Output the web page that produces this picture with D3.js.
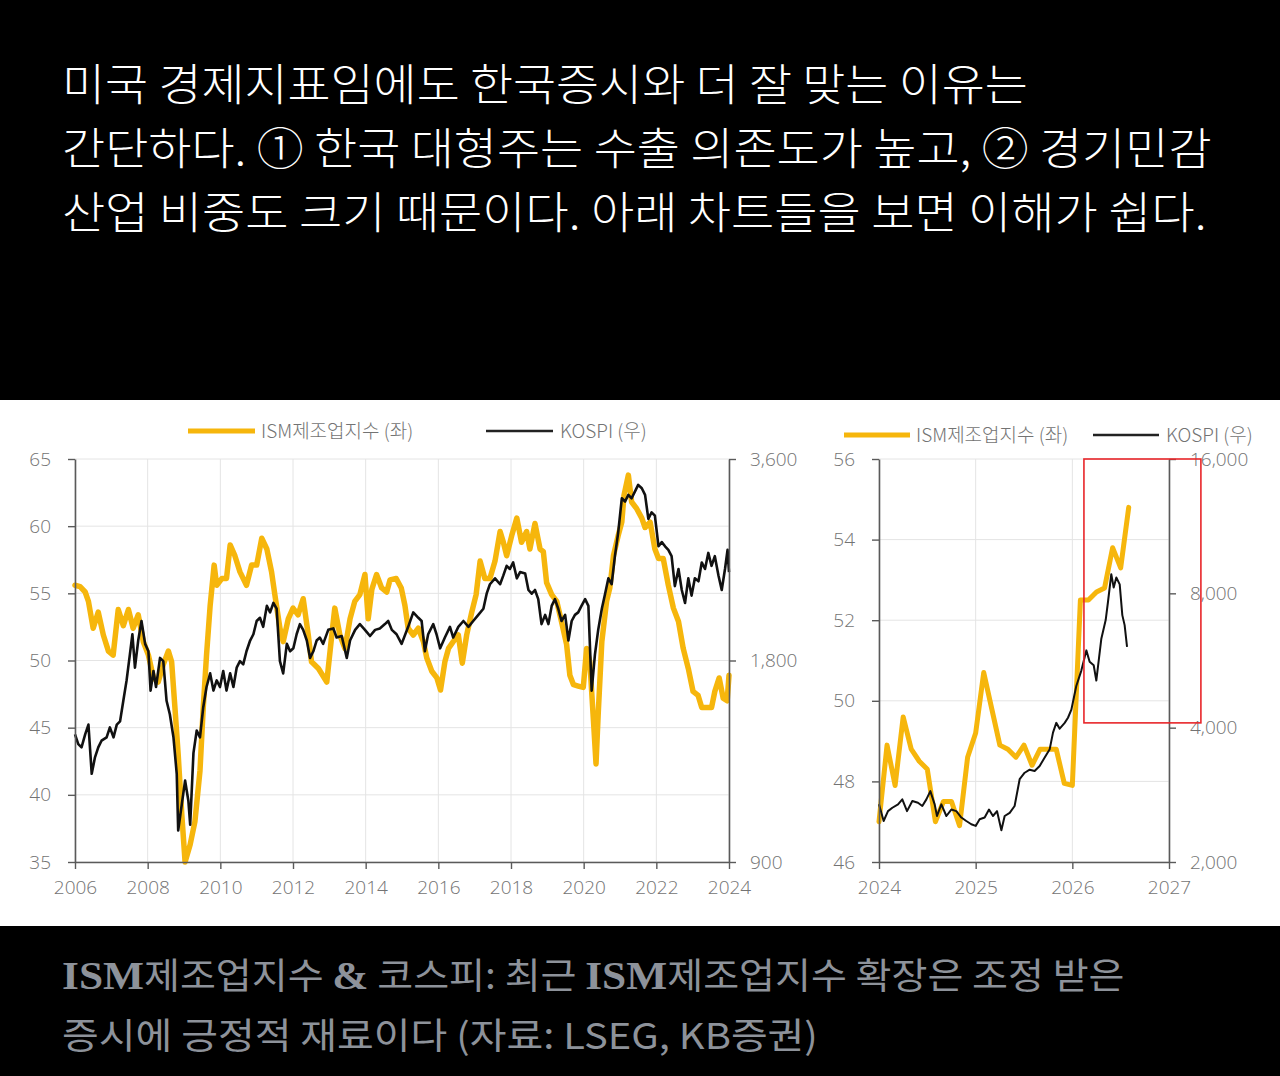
<!DOCTYPE html>
<html>
<head>
<meta charset="utf-8">
<script src="https://cdn.jsdelivr.net/npm/d3@7"></script>
<style>
  html, body { margin: 0; padding: 0; background: #000; }
  svg { display: block; }
</style>
</head>
<body>
<script>
// ---- data ----
const headerLines = [
  "미국 경제지표임에도 한국증시와 더 잘 맞는 이유는",
  "간단하다. ① 한국 대형주는 수출 의존도가 높고, ② 경기민감",
  "산업 비중도 크기 때문이다. 아래 차트들을 보면 이해가 쉽다."
];

const legendIsm = "ISM제조업지수 (좌)";
const legendKospi = "KOSPI (우)";

// left chart: ISM (left axis), KOSPI (right axis, log)
const ismLong = [
  [2006.00,55.6],[2006.14,55.5],[2006.28,55.1],[2006.37,54.4],[2006.50,52.4],[2006.64,53.6],
  [2006.78,51.9],[2006.92,50.7],[2007.05,50.4],[2007.19,53.8],[2007.33,52.6],[2007.47,53.8],
  [2007.60,52.4],[2007.74,53.4],[2007.88,51.4],[2008.02,50.4],[2008.16,48.7],[2008.29,48.4],
  [2008.43,49.7],[2008.57,50.7],[2008.66,49.9],[2008.75,46.5],[2008.84,43.0],[2008.94,38.5],
  [2009.03,35.0],[2009.17,36.3],[2009.30,38.0],[2009.44,41.8],[2009.53,46.5],[2009.62,50.4],
  [2009.72,54.1],[2009.83,57.1],[2009.90,55.6],[2010.04,56.1],[2010.17,56.1],[2010.27,58.6],
  [2010.40,57.8],[2010.54,56.6],[2010.72,55.6],[2010.86,57.1],[2011.00,57.1],[2011.14,59.1],
  [2011.28,58.3],[2011.41,56.6],[2011.50,54.9],[2011.64,52.4],[2011.73,51.4],[2011.87,53.1],
  [2012.00,53.9],[2012.14,53.4],[2012.28,54.6],[2012.42,51.9],[2012.51,49.9],[2012.70,49.4],
  [2012.93,48.4],[2013.06,51.7],[2013.15,53.9],[2013.29,51.9],[2013.43,50.9],[2013.57,53.1],
  [2013.70,54.4],[2013.84,54.9],[2013.98,56.4],[2014.07,53.1],[2014.17,55.3],[2014.30,56.4],
  [2014.44,55.4],[2014.58,55.1],[2014.67,56.0],[2014.84,56.1],[2014.98,55.4],[2015.08,54.1],
  [2015.17,52.4],[2015.31,51.9],[2015.45,52.4],[2015.59,51.4],[2015.68,50.2],[2015.82,49.2],
  [2015.96,48.7],[2016.06,47.8],[2016.18,49.9],[2016.28,50.9],[2016.41,51.4],[2016.55,51.9],
  [2016.66,49.8],[2016.78,51.9],[2016.92,53.6],[2017.04,54.9],[2017.15,57.4],[2017.28,56.1],
  [2017.42,56.1],[2017.56,57.4],[2017.70,59.6],[2017.79,58.8],[2017.88,57.8],[2018.02,59.3],
  [2018.16,60.6],[2018.29,58.8],[2018.43,59.6],[2018.52,58.3],[2018.66,60.2],[2018.80,58.3],
  [2018.89,58.1],[2018.98,55.8],[2019.12,54.9],[2019.26,54.4],[2019.39,52.9],[2019.53,51.2],
  [2019.62,48.9],[2019.72,48.2],[2019.85,48.1],[2019.99,48.0],[2020.08,50.9],[2020.17,49.9],
  [2020.27,45.5],[2020.34,42.3],[2020.40,46.0],[2020.50,51.4],[2020.63,54.4],[2020.72,55.4],
  [2020.82,57.8],[2020.95,59.3],[2021.05,60.3],[2021.11,62.3],[2021.23,63.8],[2021.32,61.8],
  [2021.46,61.3],[2021.60,60.6],[2021.69,59.9],[2021.83,60.3],[2021.96,58.3],[2022.06,57.6],
  [2022.19,57.6],[2022.33,55.6],[2022.47,53.9],[2022.61,52.9],[2022.74,50.9],[2022.88,49.4],
  [2023.01,47.7],[2023.15,47.4],[2023.25,46.5],[2023.39,46.5],[2023.52,46.5],[2023.61,47.7],
  [2023.73,48.7],[2023.84,47.2],[2023.95,47.0],[2024.00,48.9]
];

const kospiLong = [
  [2006.00,1396],[2006.09,1350],[2006.18,1335],[2006.28,1396],[2006.37,1444],[2006.46,1219],
  [2006.55,1290],[2006.64,1335],[2006.73,1366],[2006.87,1382],[2006.96,1430],[2007.06,1382],
  [2007.15,1444],[2007.24,1460],[2007.33,1567],[2007.42,1681],[2007.51,1837],[2007.58,1970],
  [2007.65,1756],[2007.74,1928],[2007.83,2062],[2007.93,1906],[2008.02,1858],[2008.08,1623],
  [2008.16,1736],[2008.23,1643],[2008.34,1816],[2008.43,1796],[2008.52,1567],[2008.61,1496],
  [2008.71,1382],[2008.80,1219],[2008.84,1003],[2008.94,1098],[2009.03,1191],[2009.12,1111],
  [2009.17,1023],[2009.26,1309],[2009.35,1415],[2009.44,1382],[2009.53,1533],[2009.62,1643],
  [2009.72,1722],[2009.81,1623],[2009.90,1681],[2009.99,1643],[2010.08,1736],[2010.17,1623],
  [2010.27,1722],[2010.36,1643],[2010.45,1756],[2010.54,1796],[2010.63,1776],[2010.72,1858],
  [2010.82,1928],[2010.91,1970],[2011.00,2062],[2011.09,2085],[2011.18,2021],[2011.28,2172],
  [2011.37,2124],[2011.46,2194],[2011.55,2151],[2011.64,1796],[2011.73,1722],[2011.83,1906],
  [2011.92,1858],[2012.01,1877],[2012.10,1970],[2012.19,2040],[2012.28,2000],[2012.38,1928],
  [2012.47,1816],[2012.56,1858],[2012.65,1928],[2012.74,1948],[2012.83,1906],[2012.97,2000],
  [2013.11,2010],[2013.20,1948],[2013.34,1958],[2013.48,1816],[2013.57,1928],[2013.71,2000],
  [2013.84,2040],[2013.98,2000],[2014.12,1958],[2014.26,2000],[2014.39,2010],[2014.53,2040],
  [2014.62,2062],[2014.72,2000],[2014.85,1970],[2014.99,1906],[2015.17,2021],[2015.31,2124],
  [2015.45,2085],[2015.54,2062],[2015.63,1858],[2015.72,1970],[2015.86,2040],[2015.95,1970],
  [2016.05,1877],[2016.18,1948],[2016.32,2021],[2016.41,1948],[2016.55,2021],[2016.69,2062],
  [2016.83,2021],[2016.96,2062],[2017.10,2106],[2017.24,2151],[2017.33,2265],[2017.42,2340],
  [2017.56,2388],[2017.70,2340],[2017.79,2412],[2017.88,2493],[2017.97,2466],[2018.06,2522],
  [2018.16,2388],[2018.25,2440],[2018.39,2427],[2018.48,2294],[2018.57,2265],[2018.66,2294],
  [2018.75,2223],[2018.84,2040],[2018.94,2106],[2019.03,2040],[2019.12,2172],[2019.21,2223],
  [2019.30,2151],[2019.39,2062],[2019.49,2106],[2019.58,1928],[2019.67,2062],[2019.76,2106],
  [2019.85,2124],[2019.94,2172],[2020.04,2223],[2020.13,2172],[2020.22,1623],[2020.31,1837],
  [2020.40,2000],[2020.50,2151],[2020.59,2265],[2020.68,2388],[2020.77,2340],[2020.86,2577],
  [2020.95,2795],[2021.05,3145],[2021.14,3110],[2021.23,3182],[2021.32,3145],[2021.41,3218],
  [2021.50,3294],[2021.60,3255],[2021.69,3182],[2021.78,2930],[2021.87,2997],[2021.96,2963],
  [2022.06,2666],[2022.15,2705],[2022.24,2666],[2022.33,2634],[2022.42,2577],[2022.51,2325],
  [2022.61,2466],[2022.70,2294],[2022.79,2194],[2022.88,2388],[2022.97,2250],[2023.06,2388],
  [2023.16,2364],[2023.25,2522],[2023.34,2466],[2023.43,2606],[2023.52,2493],[2023.61,2577],
  [2023.71,2412],[2023.80,2294],[2023.89,2466],[2023.96,2634],[2024.00,2440]
];

// right chart: monthly ISM Jan 2024 .. Aug 2026
const ismRecentValues = [
  47.0, 48.9, 47.9, 49.6, 48.8, 48.5, 48.3, 47.0, 47.5, 47.5, 46.9, 48.6,
  49.2, 50.7, 49.8, 48.9, 48.8, 48.6, 48.9, 48.4, 48.8, 48.8, 48.8, 47.95,
  47.9, 52.5, 52.5, 52.7, 52.8, 53.8, 53.3, 54.8
];

const kospiRecent = [
  [2024.000,2693],[2024.048,2471],[2024.093,2600],[2024.138,2646],[2024.197,2693],[2024.241,2763],
  [2024.290,2600],[2024.345,2740],[2024.403,2716],[2024.448,2670],[2024.490,2763],[2024.531,2883],
  [2024.576,2693],[2024.600,2536],[2024.645,2693],[2024.697,2536],[2024.748,2622],[2024.800,2600],
  [2024.852,2516],[2024.903,2471],[2024.955,2430],[2025.000,2409],[2025.041,2493],[2025.093,2516],
  [2025.138,2622],[2025.179,2536],[2025.221,2600],[2025.266,2355],[2025.300,2536],[2025.352,2578],
  [2025.403,2670],[2025.455,3066],[2025.507,3170],[2025.559,3220],[2025.610,3200],[2025.662,3282],
  [2025.714,3430],[2025.766,3580],[2025.800,3900],[2025.834,4100],[2025.869,3980],[2025.921,4100],
  [2025.955,4210],[2025.990,4390],[2026.041,4960],[2026.093,5370],[2026.145,5960],[2026.179,5620],
  [2026.221,5520],[2026.248,5100],[2026.300,6330],[2026.345,6970],[2026.369,7660],[2026.403,8830],
  [2026.428,8240],[2026.455,8680],[2026.490,8380],[2026.517,7150],[2026.541,6790],[2026.566,6070]
];

// highlighted window on the right chart: [from, to] in years, [top, bottom] in KOSPI
const highlightYears = [2026.12, 2027.33];
const highlightKospi = [16000, 4100];

// ticks
const leftIsmTicks = [35, 40, 45, 50, 55, 60, 65];
const leftKospiTicks = [900, 1800, 3600];
const leftYearTicks = [2006, 2008, 2010, 2012, 2014, 2016, 2018, 2020, 2022, 2024];
const rightIsmTicks = [46, 48, 50, 52, 54, 56];
const rightKospiTicks = [2000, 4000, 8000, 16000];
const rightYearTicks = [2024, 2025, 2026, 2027];

const captionLine1 = [
  { t: "ISM", bold: true }, { t: "제조업지수 " }, { t: "&", bold: true },
  { t: " 코스피: 최근 " }, { t: "ISM", bold: true }, { t: "제조업지수 확장은 조정 받은" }
];
const captionLine2 = [{ t: "증시에 긍정적 재료이다 (자료: LSEG, KB증권)" }];

// ---- drawing ----
const width = 1280;
const height = 1076;
const yellow = "#f6b60c";
const gridColor = "#e4e4e4";
const axisColor = "#5a5a5a";
const labelColor = "#737373";
const tickFont = "'Open Sans', 'Noto Sans', sans-serif";
const korFont = "'Noto Sans CJK KR', 'Noto Sans', sans-serif";

const svg = d3.select("body").append("svg")
  .attr("width", width)
  .attr("height", height);

svg.append("rect").attr("width", width).attr("height", height).attr("fill", "#000");
svg.append("rect").attr("x", 0).attr("y", 400).attr("width", width).attr("height", 526).attr("fill", "#fff");

// stretch a text element horizontally so it spans [x0, x1]
const fitText = (sel, x0, x1, y) => {
  const w = sel.node().getComputedTextLength();
  sel.attr("transform", `translate(${x0},${y}) scale(${(x1 - x0) / w},1)`);
};

// header
const headerSpans = [[62, 1028, 101], [62, 1212, 165], [62, 1207, 229]];
headerLines.forEach((line, i) => {
  const t = svg.append("text")
    .attr("fill", "#fff")
    .attr("font-family", korFont)
    .attr("font-weight", 300)
    .attr("font-size", 44)
    .text(line);
  fitText(t, ...headerSpans[i]);
});

// caption
const drawCaption = (parts, x0, x1, y) => {
  const t = svg.append("text")
    .attr("fill", "#8d929a")
    .attr("font-size", 38);
  parts.forEach(p => {
    t.append("tspan")
      .attr("font-family", p.bold ? "'Liberation Serif', serif" : korFont)
      .attr("font-weight", p.bold ? 700 : 400)
      .attr("font-size", p.bold ? 40 : 36)
      .text(p.t);
  });
  fitText(t, x0, x1, y);
};
drawCaption(captionLine1, 62, 1125, 989);
drawCaption(captionLine2, 62, 818, 1049);

const styleAxis = (g) => {
  g.select(".domain").attr("stroke", axisColor).attr("stroke-width", 1.6);
  g.selectAll(".tick line").attr("stroke", axisColor).attr("stroke-width", 1.4);
  g.selectAll(".tick text")
    .attr("fill", labelColor)
    .attr("font-family", tickFont)
    .attr("font-weight", 300)
    .attr("font-size", 19);
};

const drawChart = (cfg) => {
  const { x, y, k, yearTicks, ismTicks, kospiTicks, ism, kospi, legend, ismWidth, kospiWidth } = cfg;
  const [xa, xb] = x.range();
  const [yb, ya] = y.range();
  const g = svg.append("g");

  // grid
  g.append("g").selectAll("line").data(ismTicks)
    .join("line")
    .attr("x1", xa).attr("x2", xb)
    .attr("y1", d => y(d)).attr("y2", d => y(d))
    .attr("stroke", gridColor).attr("stroke-width", 1);
  g.append("g").selectAll("line").data(yearTicks)
    .join("line")
    .attr("x1", d => x(d)).attr("x2", d => x(d))
    .attr("y1", ya).attr("y2", yb)
    .attr("stroke", gridColor).attr("stroke-width", 1);

  // series
  g.append("path").datum(ism)
    .attr("fill", "none")
    .attr("stroke", yellow)
    .attr("stroke-width", ismWidth)
    .attr("stroke-linejoin", "round")
    .attr("stroke-linecap", "round")
    .attr("d", d3.line().x(d => x(d[0])).y(d => y(d[1])));
  g.append("path").datum(kospi)
    .attr("fill", "none")
    .attr("stroke", "#111")
    .attr("stroke-width", kospiWidth)
    .attr("stroke-linejoin", "round")
    .attr("d", d3.line().x(d => x(d[0])).y(d => k(d[1])));

  // axes
  g.append("g")
    .attr("transform", `translate(${xa},0)`)
    .call(d3.axisLeft(y).tickValues(ismTicks).tickSize(7).tickSizeOuter(0).tickPadding(17).tickFormat(d3.format("d")))
    .call(styleAxis);
  g.append("g")
    .attr("transform", `translate(${xb},0)`)
    .call(d3.axisRight(k).tickValues(kospiTicks).tickSize(7).tickSizeOuter(0).tickPadding(14).tickFormat(d3.format(",")))
    .call(styleAxis);
  g.append("g")
    .attr("transform", `translate(0,${yb})`)
    .call(d3.axisBottom(x).tickValues(yearTicks).tickSize(7).tickSizeOuter(0).tickPadding(12).tickFormat(d3.format("d")))
    .call(styleAxis);

  // legend
  const lg = g.append("g").attr("font-family", korFont).attr("font-weight", 300)
    .attr("font-size", 19).attr("fill", labelColor);
  lg.append("line")
    .attr("x1", legend.ism[0]).attr("x2", legend.ism[0] + legend.len)
    .attr("y1", legend.y).attr("y2", legend.y)
    .attr("stroke", yellow).attr("stroke-width", 5);
  lg.append("text").attr("x", legend.ism[0] + legend.len + 6).attr("y", legend.y + 7).text(legendIsm);
  lg.append("line")
    .attr("x1", legend.kospi[0]).attr("x2", legend.kospi[0] + legend.len)
    .attr("y1", legend.y).attr("y2", legend.y)
    .attr("stroke", "#222").attr("stroke-width", 2.5);
  lg.append("text").attr("x", legend.kospi[0] + legend.len + 7).attr("y", legend.y + 7).text(legendKospi);
  return g;
};

// left chart
const xL = d3.scaleLinear().domain([2006, 2024]).range([75, 729]);
const yL = d3.scaleLinear().domain([35, 65]).range([862, 459]);
const kL = d3.scaleLog().domain([900, 3600]).range([862, 459]);

drawChart({
  x: xL, y: yL, k: kL,
  yearTicks: leftYearTicks, ismTicks: leftIsmTicks, kospiTicks: leftKospiTicks,
  ism: ismLong, kospi: kospiLong,
  legend: { y: 431, len: 67, ism: [188], kospi: [486] },
  ismWidth: 5.5, kospiWidth: 2.6
});

// right chart
const xR = d3.scaleLinear().domain([2024, 2027]).range([879, 1169]);
const yR = d3.scaleLinear().domain([46, 56]).range([862, 459]);
const kR = d3.scaleLog().domain([2000, 16000]).range([862, 459]);

const ismRecent = ismRecentValues.map((v, i) => [2024 + i / 12, v]);

drawChart({
  x: xR, y: yR, k: kR,
  yearTicks: rightYearTicks, ismTicks: rightIsmTicks, kospiTicks: rightKospiTicks,
  ism: ismRecent, kospi: kospiRecent,
  legend: { y: 435, len: 66, ism: [844], kospi: [1093] },
  ismWidth: 5, kospiWidth: 2
});

// highlight box
svg.append("rect")
  .attr("x", xR(highlightYears[0]))
  .attr("y", kR(highlightKospi[0]))
  .attr("width", xR(highlightYears[1]) - xR(highlightYears[0]))
  .attr("height", kR(highlightKospi[1]) - kR(highlightKospi[0]))
  .attr("fill", "none")
  .attr("stroke", "#e8262a")
  .attr("stroke-width", 1.6);
</script>
</body>
</html>
